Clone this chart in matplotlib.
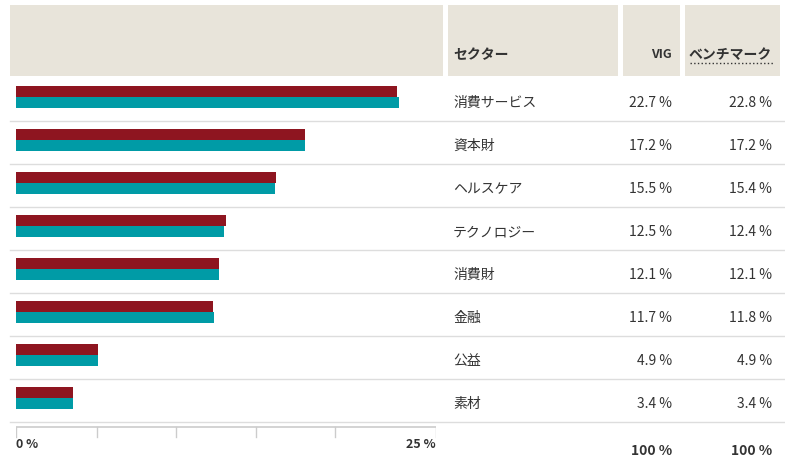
import numpy as np
import matplotlib.pyplot as plt
from matplotlib.patches import Rectangle

plt.rcParams['font.family'] = ['Noto Sans CJK JP', 'DejaVu Sans']

sectors = ['消費サービス', '資本財', 'ヘルスケア', 'テクノロジー', '消費財', '金融', '公益', '素材']
vig = [22.7, 17.2, 15.5, 12.5, 12.1, 11.7, 4.9, 3.4]
bench = [22.8, 17.2, 15.4, 12.4, 12.1, 11.8, 4.9, 3.4]
headers = ['セクター', 'VIG', 'ベンチマーク']
totals = ['100 %', '100 %']

W, H = 785, 467
fig = plt.figure(figsize=(W / 100, H / 100), dpi=100)

# pixel-space overlay for table
bg = fig.add_axes([0, 0, 1, 1])
bg.set_xlim(0, W)
bg.set_ylim(H, 0)
bg.axis('off')

beige = '#E8E4DA'
for x0, x1 in [(10, 443), (448, 618), (623, 680), (685, 780)]:
    bg.add_patch(Rectangle((x0, 5), x1 - x0, 71, color=beige, lw=0))
txt = '#333333'
bg.text(453, 55, headers[0], fontsize=10, fontweight='bold', color=txt, va='center')
bg.text(672, 55, headers[1], fontsize=9, fontweight='bold', color=txt, va='center', ha='right')
bg.text(772, 55, headers[2], fontsize=10, fontweight='bold', color=txt, va='center', ha='right')
bg.plot([690, 773], [63, 63], ls=':', color='#333333', lw=1)

top, rh = 78, 43
for i, s in enumerate(sectors):
    yc = top + rh * i + 25
    bg.text(453, yc, s, fontsize=10, color='#333333', va='center')
    bg.text(672, yc, f'{vig[i]} %', fontsize=10, color='#333333', va='center', ha='right')
    bg.text(772, yc, f'{bench[i]} %', fontsize=10, color='#333333', va='center', ha='right')
    yl = top + rh * (i + 1)
    bg.plot([10, 785], [yl, yl], color='#dddddd', lw=1)

bg.text(672, 451, totals[0], fontsize=10, fontweight='bold', color=txt, va='center', ha='right')
bg.text(772, 451, totals[1], fontsize=10, fontweight='bold', color=txt, va='center', ha='right')

# bar axes
x0, x1 = 16, 436
ax = fig.add_axes([x0 / W, 1 - 422 / H, (x1 - x0) / W, (422 - top) / H])
ax.patch.set_alpha(0)
ypos = np.arange(len(sectors))
ax.barh(ypos + 0.31, vig, height=0.26, color='#8E1520', align='center')
ax.barh(ypos + 0.575, bench, height=0.245, color='#009BA6', align='center')
ax.set_xlim(0, 25)
ax.set_ylim(len(sectors), 0)
ax.axis('off')

# bottom scale
scale = fig.add_axes([x0 / W, 1 - 440 / H, (x1 - x0) / W, 14 / H])
scale.set_xlim(0, 25)
scale.set_ylim(1, 0)
scale.axis('off')
scale.plot([0, 25], [0.1, 0.1], color='#cccccc', lw=1.2)
for t in [0, 4.8, 9.55, 14.3, 19.0, 25]:
    scale.plot([t, t], [0.1, 0.75], color='#cccccc', lw=1)
bg.text(16, 444, '0 %', fontsize=9, fontweight='bold', color=txt, va='center')
bg.text(436, 444, '25 %', fontsize=9, fontweight='bold', color=txt, va='center', ha='right')

fig.savefig('out.png', dpi=100)
